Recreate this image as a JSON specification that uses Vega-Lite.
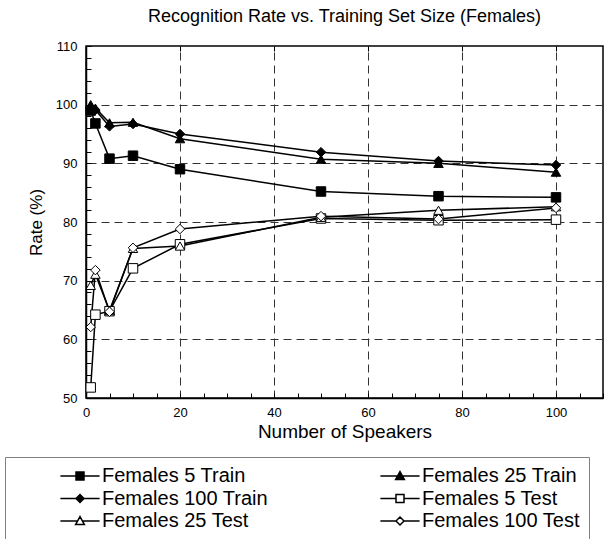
{
  "$schema": "https://vega.github.io/schema/vega-lite/v6.json",
  "width": 517,
  "height": 352,
  "autosize": {"type": "none"},
  "padding": {"left": 86, "top": 46, "right": 10, "bottom": 141},
  "title": {"text": "Recognition Rate vs. Training Set Size (Females)", "fontSize": 18, "fontWeight": "normal", "font": "Liberation Sans", "color": "black", "offset": 14, "anchor": "middle"},
  "config": {
    "font": "Liberation Sans",
    "view": {"stroke": "black", "strokeWidth": 1.5},
    "axis": {"labelColor": "black", "titleColor": "black", "labelFont": "Liberation Sans", "titleFont": "Liberation Sans", "titleFontWeight": "normal"},
    "legend": {"title": null, "orient": "none", "direction": "horizontal", "legendX": -81, "legendY": 411, "columns": 2, "symbolSize": 64, "symbolStrokeWidth": 1.5, "symbolStrokeColor": "black", "symbolOffset": 56, "labelOffset": 12, "labelFontSize": 20, "labelFont": "Liberation Sans", "labelColor": "black", "rowPadding": 2.5, "columnPadding": 66, "padding": 9, "strokeColor": "#808080", "labelLimit": 800}
  },
  "data": {"values": [
    {"series": "Females 5 Train", "x": 1, "y": 99.0},
    {"series": "Females 5 Train", "x": 2, "y": 96.8},
    {"series": "Females 5 Train", "x": 5, "y": 90.8},
    {"series": "Females 5 Train", "x": 10, "y": 91.3},
    {"series": "Females 5 Train", "x": 20, "y": 89.0},
    {"series": "Females 5 Train", "x": 50, "y": 85.2},
    {"series": "Females 5 Train", "x": 75, "y": 84.4},
    {"series": "Females 5 Train", "x": 100, "y": 84.2},
    {"series": "Females 25 Train", "x": 1, "y": 100.0},
    {"series": "Females 25 Train", "x": 2, "y": 99.4},
    {"series": "Females 25 Train", "x": 5, "y": 96.9},
    {"series": "Females 25 Train", "x": 10, "y": 97.0},
    {"series": "Females 25 Train", "x": 20, "y": 94.2},
    {"series": "Females 25 Train", "x": 50, "y": 90.7},
    {"series": "Females 25 Train", "x": 75, "y": 90.0},
    {"series": "Females 25 Train", "x": 100, "y": 88.5},
    {"series": "Females 100 Train", "x": 1, "y": 99.5},
    {"series": "Females 100 Train", "x": 2, "y": 99.1},
    {"series": "Females 100 Train", "x": 5, "y": 96.3},
    {"series": "Females 100 Train", "x": 10, "y": 96.7},
    {"series": "Females 100 Train", "x": 20, "y": 95.0},
    {"series": "Females 100 Train", "x": 50, "y": 91.9},
    {"series": "Females 100 Train", "x": 75, "y": 90.4},
    {"series": "Females 100 Train", "x": 100, "y": 89.7},
    {"series": "Females 5 Test", "x": 1, "y": 51.8},
    {"series": "Females 5 Test", "x": 2, "y": 64.2},
    {"series": "Females 5 Test", "x": 5, "y": 64.8},
    {"series": "Females 5 Test", "x": 10, "y": 72.1},
    {"series": "Females 5 Test", "x": 20, "y": 76.2},
    {"series": "Females 5 Test", "x": 50, "y": 80.6},
    {"series": "Females 5 Test", "x": 75, "y": 80.3},
    {"series": "Females 5 Test", "x": 100, "y": 80.4},
    {"series": "Females 25 Test", "x": 1, "y": 69.2},
    {"series": "Females 25 Test", "x": 2, "y": 71.1},
    {"series": "Females 25 Test", "x": 5, "y": 64.9},
    {"series": "Females 25 Test", "x": 10, "y": 75.5},
    {"series": "Females 25 Test", "x": 20, "y": 75.9},
    {"series": "Females 25 Test", "x": 50, "y": 80.8},
    {"series": "Females 25 Test", "x": 75, "y": 82.0},
    {"series": "Females 25 Test", "x": 100, "y": 82.6},
    {"series": "Females 100 Test", "x": 1, "y": 62.1},
    {"series": "Females 100 Test", "x": 2, "y": 71.8},
    {"series": "Females 100 Test", "x": 5, "y": 64.7},
    {"series": "Females 100 Test", "x": 10, "y": 75.6},
    {"series": "Females 100 Test", "x": 20, "y": 78.8},
    {"series": "Females 100 Test", "x": 50, "y": 81.0},
    {"series": "Females 100 Test", "x": 75, "y": 80.5},
    {"series": "Females 100 Test", "x": 100, "y": 82.4}
  ]},
  "layer": [
    {
      "mark": {"type": "line", "color": "black", "strokeWidth": 1.5},
      "encoding": {
        "x": {"field": "x", "type": "quantitative", "scale": {"domain": [0, 110], "nice": false, "zero": false},
          "axis": {"orient": "bottom", "title": "Number of Speakers", "titleFontSize": 19, "titlePadding": 3, "values": [0,5,10,15,20,25,30,35,40,45,50,55,60,65,70,75,80,85,90,95,100,105,110], "labelExpr": "datum.value % 20 == 0 && datum.value <= 100 ? datum.label : ''", "labelFontSize": 13, "labelPadding": 13, "tickSize": -5, "tickColor": "black", "tickWidth": 1, "domainColor": "black", "domainWidth": 1.5, "grid": false, "labelOverlap": false, "labelFlush": false}},
        "y": {"field": "y", "type": "quantitative", "scale": {"domain": [50, 110], "nice": false, "zero": false},
          "axis": {"orient": "left", "title": "Rate (%)", "titleFontSize": 17, "titlePadding": 10, "values": [50,52,54,56,58,60,62,64,66,68,70,72,74,76,78,80,82,84,86,88,90,92,94,96,98,100,102,104,106,108,110], "labelExpr": "datum.value % 10 == 0 ? datum.label : ''", "labelFontSize": 13, "labelPadding": 14, "tickSize": -5, "tickColor": "black", "tickWidth": 1, "domainColor": "black", "domainWidth": 1.5, "grid": false, "labelOverlap": false, "labelFlush": false}},
        "detail": {"field": "series", "type": "nominal"}
      }
    },
    {
      "mark": {"type": "point", "filled": true, "stroke": "black", "strokeWidth": 1, "size": 90, "opacity": 1},
      "encoding": {
        "x": {"field": "x", "type": "quantitative", "scale": {"domain": [0, 110], "nice": false, "zero": false},
          "axis": {"orient": "top", "title": null, "values": [20, 40, 60, 80, 100], "labels": false, "domain": false, "ticks": true, "tickSize": -5, "tickColor": "black", "grid": true, "gridColor": "#333333", "gridDash": [8, 5], "gridWidth": 1, "gridOpacity": 1}},
        "y": {"field": "y", "type": "quantitative", "scale": {"domain": [50, 110], "nice": false, "zero": false},
          "axis": {"orient": "right", "title": null, "values": [60, 70, 80, 90, 100], "labels": false, "domain": false, "ticks": false, "grid": true, "gridColor": "#333333", "gridDash": [8, 5], "gridWidth": 1, "gridOpacity": 1}},
        "shape": {"field": "series", "type": "nominal", "legend": null,
          "scale": {"domain": ["Females 5 Train", "Females 25 Train", "Females 100 Train", "Females 5 Test", "Females 25 Test", "Females 100 Test"],
            "range": ["square", "triangle-up", "diamond", "square", "triangle-up", "diamond"]}},
        "fill": {"field": "series", "type": "nominal", "legend": null,
          "scale": {"domain": ["Females 5 Train", "Females 25 Train", "Females 100 Train", "Females 5 Test", "Females 25 Test", "Females 100 Test"],
            "range": ["black", "black", "black", "white", "white", "white"]}}
      }
    },
    {
      "transform": [{"filter": "datum.x < 0"}],
      "mark": {"type": "point", "filled": true, "strokeWidth": 1.5, "opacity": 1},
      "encoding": {
        "shape": {"field": "series", "type": "nominal",
          "scale": {"domain": ["Females 5 Train", "Females 25 Train", "Females 100 Train", "Females 5 Test", "Females 25 Test", "Females 100 Test"],
            "range": [
              "M-4.9,0H-1M1,0H4.9M-1,-1H1V1H-1Z",
              "M-4.9,0H-0.6M0.6,0H4.9M0,-1.1L1.1,0.9H-1.1Z",
              "M-4.9,0H-1M1,0H4.9M-1,0L0,-1L1,0L0,1Z",
              "M-4.9,0H-1M1,0H4.9M-1,-1H1V1H-1Z",
              "M-4.9,0H-0.6M0.6,0H4.9M0,-1.1L1.1,0.9H-1.1Z",
              "M-4.9,0H-1M1,0H4.9M-1,0L0,-1L1,0L0,1Z"]},
          "legend": {
            "labelExpr": "indexof(['Females 25 Train','Females 5 Test','Females 100 Test'], datum.label) >= 0 ? datum.label + '\u00a0\u00a0\u00a0\u00a0\u00a0\u00a0\u00a0\u00a0\u00a0\u00a0\u00a0\u00a0' : datum.label",
            "encode": {"labels": {"update": {"fontSize": {"signal": "indexof(datum.label, 'Test') >= 0 ? 18 : 20"}}}}}},
        "fill": {"field": "series", "type": "nominal",
          "scale": {"domain": ["Females 5 Train", "Females 25 Train", "Females 100 Train", "Females 5 Test", "Females 25 Test", "Females 100 Test"],
            "range": ["black", "black", "black", "white", "white", "white"]},
          "legend": {
            "labelExpr": "indexof(['Females 25 Train','Females 5 Test','Females 100 Test'], datum.label) >= 0 ? datum.label + '\u00a0\u00a0\u00a0\u00a0\u00a0\u00a0\u00a0\u00a0\u00a0\u00a0\u00a0\u00a0' : datum.label",
            "encode": {"labels": {"update": {"fontSize": {"signal": "indexof(datum.label, 'Test') >= 0 ? 18 : 20"}}}}}},
        "stroke": {"field": "series", "type": "nominal",
          "scale": {"domain": ["Females 5 Train", "Females 25 Train", "Females 100 Train", "Females 5 Test", "Females 25 Test", "Females 100 Test"],
            "range": ["black", "black", "black", "black", "black", "black"]},
          "legend": {
            "labelExpr": "indexof(['Females 25 Train','Females 5 Test','Females 100 Test'], datum.label) >= 0 ? datum.label + '\u00a0\u00a0\u00a0\u00a0\u00a0\u00a0\u00a0\u00a0\u00a0\u00a0\u00a0\u00a0' : datum.label",
            "encode": {"labels": {"update": {"fontSize": {"signal": "indexof(datum.label, 'Test') >= 0 ? 18 : 20"}}}}}}
      }
    }
  ],
  "resolve": {"axis": {"x": "independent", "y": "independent"}, "scale": {"shape": "independent", "fill": "independent", "stroke": "independent"}, "legend": {"shape": "independent", "fill": "independent", "stroke": "independent"}}
}
